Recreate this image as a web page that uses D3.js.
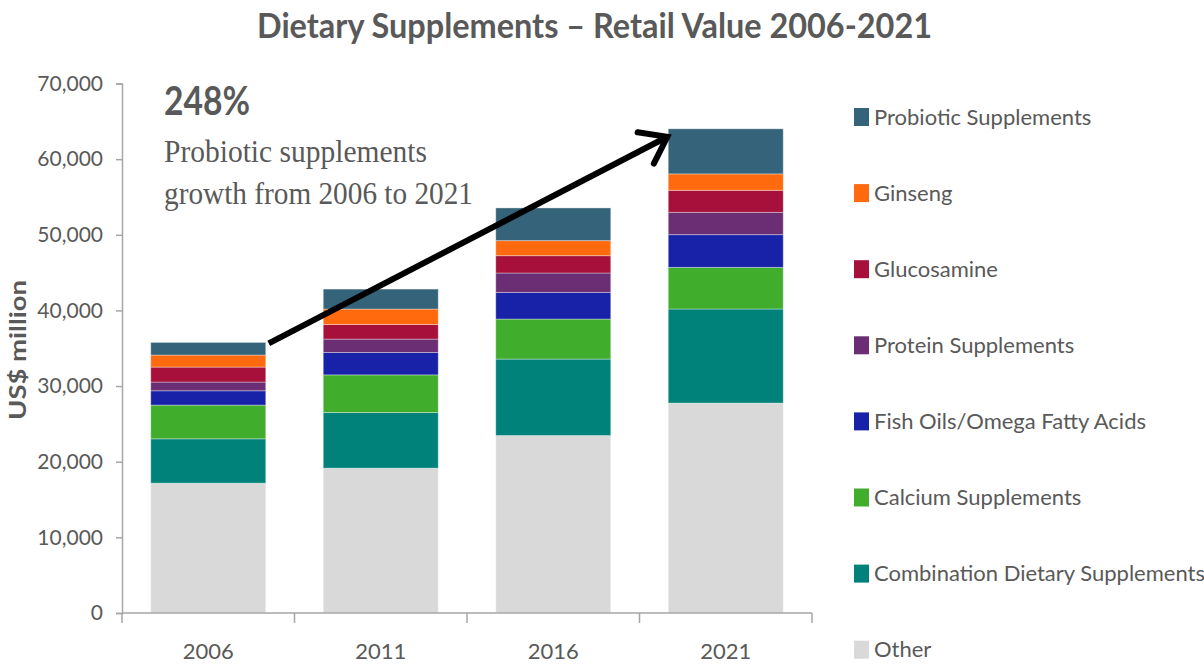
<!DOCTYPE html>
<html>
<head>
<meta charset="utf-8">
<script src="https://cdn.jsdelivr.net/npm/d3@7"></script>
<style>
  html, body { margin: 0; padding: 0; background: #ffffff; }
  svg { display: block; }
</style>
</head>
<body>
<svg id="chart" width="1204" height="668"></svg>
<script>
// ---- Data (US$ million) ----
const years = ["2006", "2011", "2016", "2021"];
const seriesNames = [
  "Other",
  "Combination Dietary Supplements",
  "Calcium Supplements",
  "Fish Oils/Omega Fatty Acids",
  "Protein Supplements",
  "Glucosamine",
  "Ginseng",
  "Probiotic Supplements"
];
const other       = [17160, 19150, 23460, 27750];
const combination = [5870, 7350, 10110, 12440];
const calcium     = [4450, 4980, 5290, 5500];
const fishOils    = [1900, 2960, 3520, 4330];
const protein     = [1150, 1770, 2570, 2950];
const glucosamine = [1980, 1930, 2290, 2910];
const ginseng     = [1590, 2040, 1990, 2170];
const probiotic   = [1670, 2640, 4320, 5960];
const yTicks = [0, 10000, 20000, 30000, 40000, 50000, 60000, 70000];
const colors = ["#d9d9d9", "#00827a", "#41ad2c", "#1722a8", "#6b2e75", "#a6103a", "#ff6a0e", "#35637a"];

const titleText = "Dietary Supplements \u2013 Retail Value 2006-2021";
const growthText = "248%";
const noteLines = ["Probiotic supplements", "growth from 2006 to 2021"];
const yTitle = "US$ million";

// ---- Build table ----
const seriesValues = [other, combination, calcium, fishOils, protein, glucosamine, ginseng, probiotic];
const table = years.map((yr, i) => {
  const row = { year: yr };
  seriesNames.forEach((s, k) => { row[s] = seriesValues[k][i]; });
  return row;
});
const stacked = d3.stack().keys(seriesNames)(table);

const svg = d3.select("#chart");
const textColor = "#595959";
const axisColor = "#a6a6a6";

const x = d3.scaleBand().domain(years).range([122, 812]).paddingInner(1/3).paddingOuter(1/6);
const y = d3.scaleLinear().domain([0, 70000]).range([613, 83.5]);
const color = d3.scaleOrdinal().domain(seriesNames).range(colors);

// ---- Title ----
svg.append("text")
  .attr("x", 594.5).attr("y", 38)
  .attr("text-anchor", "middle")
  .attr("font-family", "Lato, sans-serif")
  .attr("font-weight", 700)
  .attr("font-size", 34)
  .attr("fill", textColor)
  .attr("textLength", 675)
  .attr("lengthAdjust", "spacingAndGlyphs")
  .text(titleText);

// ---- Bars ----
svg.append("g").selectAll("g")
  .data(stacked)
  .join("g")
  .attr("fill", d => color(d.key))
  .selectAll("rect")
  .data(d => d)
  .join("rect")
  .attr("x", d => x(d.data.year))
  .attr("y", d => y(d[1]))
  .attr("width", x.bandwidth())
  .attr("height", d => y(d[0]) - y(d[1]))
  .attr("stroke", "rgba(255,255,255,0.35)")
  .attr("stroke-width", 1);

// ---- Y axis ----
const yAxis = svg.append("g")
  .attr("transform", `translate(${x.range()[0]},0)`)
  .call(d3.axisLeft(y).tickValues(yTicks).tickSize(6).tickPadding(13).tickFormat(d3.format(",")));
yAxis.select(".domain").attr("stroke", axisColor).attr("stroke-width", 1.5);
yAxis.selectAll(".tick line").attr("stroke", axisColor).attr("stroke-width", 1.5);
yAxis.selectAll(".tick text")
  .attr("font-family", "Lato, sans-serif")
  .attr("font-size", 21)
  .attr("fill", textColor);

// ---- X axis ----
const x0 = x.range()[0], x1 = x.range()[1];
const xAxis = svg.append("g").attr("transform", `translate(0,${y(0)})`);
xAxis.append("line")
  .attr("x1", x0).attr("x2", x1).attr("y1", 0).attr("y2", 0)
  .attr("stroke", axisColor).attr("stroke-width", 1.5);
xAxis.selectAll("line.tick")
  .data(d3.range(years.length + 1))
  .join("line")
  .attr("class", "tick")
  .attr("x1", i => x0 + i * x.step())
  .attr("x2", i => x0 + i * x.step())
  .attr("y1", 0).attr("y2", 10)
  .attr("stroke", axisColor).attr("stroke-width", 1.5);
xAxis.selectAll("text")
  .data(years)
  .join("text")
  .attr("x", d => x(d) + x.bandwidth() / 2)
  .attr("y", 30)
  .attr("dy", "0.71em")
  .attr("text-anchor", "middle")
  .attr("font-family", "Lato, sans-serif")
  .attr("font-size", 22)
  .attr("fill", textColor)
  .text(d => d);

// ---- Y axis title ----
svg.append("text")
  .attr("transform", "translate(26,350) rotate(-90)")
  .attr("text-anchor", "middle")
  .attr("font-family", "Lato, sans-serif")
  .attr("font-weight", 700)
  .attr("font-size", 23)
  .attr("fill", textColor)
  .attr("textLength", 140)
  .attr("lengthAdjust", "spacingAndGlyphs")
  .text(yTitle);

// ---- Annotation ----
svg.append("text")
  .attr("x", 164).attr("y", 115)
  .attr("font-family", "Lato, sans-serif")
  .attr("font-weight", 700)
  .attr("font-size", 40)
  .attr("fill", textColor)
  .attr("textLength", 86)
  .attr("lengthAdjust", "spacingAndGlyphs")
  .text(growthText);
const noteLens = [263, 309];
svg.selectAll("text.note")
  .data(noteLines)
  .join("text")
  .attr("class", "note")
  .attr("x", 164)
  .attr("y", (d, i) => 162 + i * 42)
  .attr("font-family", "'Liberation Serif', 'DejaVu Serif', serif")
  .attr("font-size", 31)
  .attr("fill", textColor)
  .attr("textLength", (d, i) => noteLens[i])
  .attr("lengthAdjust", "spacingAndGlyphs")
  .text(d => d);

// ---- Arrow from top of first bar to top of last bar ----
const totals = table.map(r => d3.sum(seriesNames, s => r[s]));
const sx = x(years[0]) + x.bandwidth() + 3, sy = y(totals[0]) + 1;
const ex = x(years[years.length - 1]) - 1, ey = y(totals[totals.length - 1]) + 8;
const ang = Math.atan2(sy - ey, sx - ex);
const armLen = 30, armAng = 36 * Math.PI / 180;
const a1 = [ex + armLen * Math.cos(ang + armAng), ey + armLen * Math.sin(ang + armAng)];
const a2 = [ex + armLen * Math.cos(ang - armAng), ey + armLen * Math.sin(ang - armAng)];
svg.append("line")
  .attr("x1", sx).attr("y1", sy).attr("x2", ex - 2 * Math.cos(ang + Math.PI)).attr("y2", ey - 2 * Math.sin(ang + Math.PI))
  .attr("stroke", "#000").attr("stroke-width", 6);
svg.append("path")
  .attr("d", `M${a1[0]},${a1[1]} L${ex},${ey} L${a2[0]},${a2[1]}`)
  .attr("fill", "none")
  .attr("stroke", "#000")
  .attr("stroke-width", 6)
  .attr("stroke-linejoin", "miter")
  .attr("stroke-linecap", "round");

// ---- Legend ----
const legendOrder = seriesNames.slice().reverse();
const legend = svg.append("g");
const items = legend.selectAll("g")
  .data(legendOrder)
  .join("g")
  .attr("transform", (d, i) => `translate(854,${117 + i * 76.1})`);
items.append("rect")
  .attr("x", 0).attr("y", -9)
  .attr("width", 15).attr("height", 18)
  .attr("fill", d => color(d));
items.append("text")
  .attr("x", 20).attr("y", 0)
  .attr("dy", "0.35em")
  .attr("font-family", "Lato, sans-serif")
  .attr("font-size", 22)
  .attr("fill", textColor)
  .text(d => d);
</script>
</body>
</html>
